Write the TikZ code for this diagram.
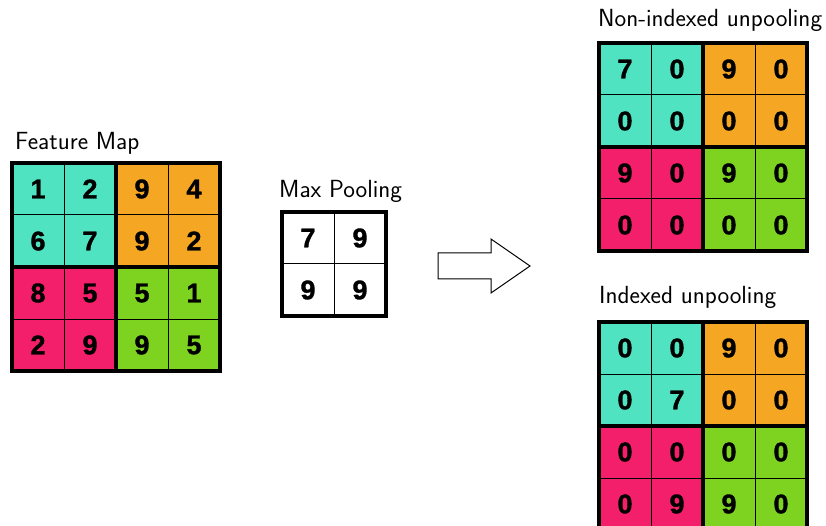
\documentclass[tikz,border=0pt]{standalone}
\usepackage{fontspec}
\newfontfamily\numfont[FakeBold=1.2]{Liberation Sans Bold}
\definecolor{q0}{RGB}{80,227,194}
\definecolor{q1}{RGB}{245,166,35}
\definecolor{q2}{RGB}{243,31,106}
\definecolor{q3}{RGB}{126,211,33}
\tikzset{
  cell/.style={draw=black, line width=1pt, minimum size=52pt, inner sep=0pt, outer sep=0pt,
    anchor=north west, font=\numfont\fontsize{27}{27}\selectfont},
  heavy/.style={draw=black, line width=4.5pt},
  title/.style={anchor=west, inner sep=0pt, font=\sffamily\fontsize{24.8}{24.8}\selectfont}
}
\newcommand\cellgrid[4]{%
  \foreach \v [count=\k from 0] in {#4} {
    \pgfmathtruncatemacro\r{\k/4}
    \pgfmathtruncatemacro\c{mod(\k,4)}
    \pgfmathtruncatemacro\q{(\r>1)*2+(\c>1)}
    \node[cell, fill=q\q] (#1-\r-\c) at (#2+\c*52, #3+\r*52) {\v};
  }
  \draw[heavy] (#1-0-0.north west) rectangle (#1-3-3.south east);
  \draw[heavy] (#1-0-2.north west) -- (#1-3-2.south west);
  \draw[heavy] (#1-2-0.north west) -- (#1-2-3.north east);
}
\begin{document}
\begin{tikzpicture}[x=1pt, y=-1pt]
\useasboundingbox (0,0) rectangle (826,526);

% Feature map
\node[title] (fmlabel) at (15,143) {Feature Map};
\cellgrid{fm}{12}{163}{1,2,9,4,6,7,9,2,8,5,5,1,2,9,9,5}

% Max pooling
\node[title] (mplabel) at (279,191) {Max Pooling};
\foreach \v [count=\k from 0] in {7,9,9,9} {
  \pgfmathtruncatemacro\r{\k/2}
  \pgfmathtruncatemacro\c{mod(\k,2)}
  \node[cell, fill=white] (mp-\r-\c) at (282+\c*52, 212+\r*52) {\v};
}
\draw[heavy] (mp-0-0.north west) rectangle (mp-1-1.south east);

% Arrow
\draw[line width=1pt, fill=white] (438,253) -- (491,253) -- (491,239) -- (530,266)
  -- (491,293) -- (491,279) -- (438,279) -- cycle;

% Non-indexed unpooling
\node[title] (nilabel) at (598,20) {Non-indexed unpooling};
\cellgrid{ni}{599}{43}{7,0,9,0,0,0,0,0,9,0,9,0,0,0,0,0}

% Indexed unpooling
\node[title] (ilabel) at (599,297) {Indexed unpooling};
\cellgrid{ix}{599}{322}{0,0,9,0,0,7,0,0,0,0,0,0,0,9,9,0}
\end{tikzpicture}
\end{document}
